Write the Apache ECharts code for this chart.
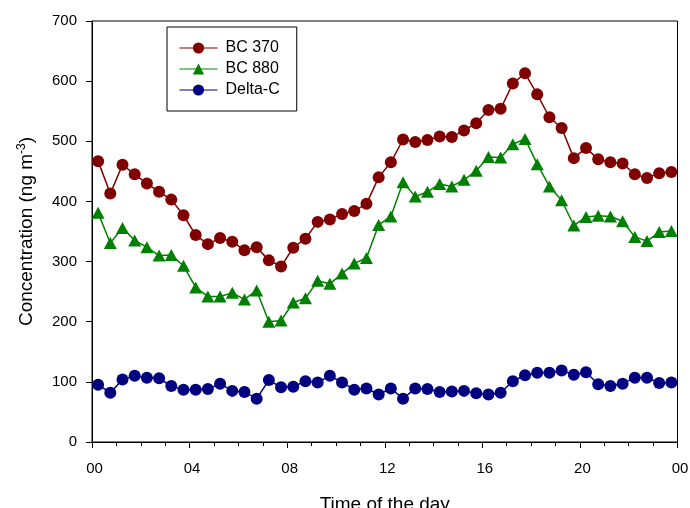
<!DOCTYPE html>
<html>
<head>
<meta charset="utf-8">
<script src="https://cdn.jsdelivr.net/npm/echarts@6/dist/echarts.min.js"></script>
<style>html,body{margin:0;padding:0;background:#fff}#c{width:690px;height:508px}</style>
</head>
<body>
<div id="c"></div>
<script>
const hours = [0.25,0.75,1.25,1.75,2.25,2.75,3.25,3.75,4.25,4.75,5.25,5.75,6.25,6.75,7.25,7.75,
  8.25,8.75,9.25,9.75,10.25,10.75,11.25,11.75,12.25,12.75,13.25,13.75,14.25,14.75,15.25,15.75,
  16.25,16.75,17.25,17.75,18.25,18.75,19.25,19.75,20.25,20.75,21.25,21.75,22.25,22.75,23.25,23.75];
const bc370 = [467,413,461,445,430,416,403,377,344,329,339,333,319,324,302,292,
  323,338,366,370,379,384,396,440,465,503,499,502,508,507,518,530,
  552,554,596,613,578,540,522,472,489,470,465,463,445,439,447,449];
const bc880 = [381,331,356,335,324,310,311,293,257,242,242,248,237,252,200,202,
  232,239,268,263,280,297,306,361,375,432,408,416,429,425,436,451,
  474,473,495,504,462,425,402,360,374,376,375,367,341,334,349,351];
const deltaC = [95,82,104,110,107,106,93,87,87,88,97,85,83,72,103,91,
  92,101,99,110,99,87,89,79,89,72,89,88,83,84,85,81,
  79,82,101,111,115,115,119,112,116,96,93,97,107,107,98,99];
const xTickLabels = {0:'00',4:'04',8:'08',12:'12',16:'16',20:'20',24:'00'};

const pair = a => a.map((v,i)=>[hours[i], v]);
const font = 'Arial, "Liberation Sans", sans-serif';
const chart = echarts.init(document.getElementById('c'));
chart.setOption({
  animation: false,
  backgroundColor: '#fff',
  grid: {left: 92, right: 12.5, top: 21, bottom: 66, containLabel: false, outerBoundsMode: 'none',
         show: true, borderColor: '#000', borderWidth: 1, backgroundColor: 'transparent'},
  legend: {
    orient: 'vertical', left: 167, top: 27,
    borderColor: '#000', borderWidth: 1,
    padding: [13, 17, 13, 12],
    itemWidth: 38, itemHeight: 14, itemGap: 5,
    lineStyle: {width: 1},
    textStyle: {fontFamily: font, fontSize: 16, color: '#000', padding: [0,0,0,3]},
    data: ['BC 370','BC 880','Delta-C']
  },
  xAxis: {
    type: 'value', min: 0, max: 24, interval: 4,
    axisLine: {lineStyle: {color: '#000', width: 1}},
    axisTick: {length: 6, lineStyle: {color: '#000'}},
    minorTick: {show: true, splitNumber: 4, length: 4, lineStyle: {color: '#000'}},
    splitLine: {show: false},
    axisLabel: {fontFamily: font, fontSize: 15, color: '#000', margin: 19, padding: [0,0,0,5], formatter: v => xTickLabels[v]},
    name: 'Time of the day', nameLocation: 'middle', nameGap: 53,
    nameTextStyle: {fontFamily: font, fontSize: 19, color: '#000'}
  },
  yAxis: {
    type: 'value', min: 0, max: 700, interval: 100,
    axisLine: {show: true, lineStyle: {color: '#000', width: 1}},
    axisTick: {show: true, length: 6, lineStyle: {color: '#000'}},
    splitLine: {show: false},
    axisLabel: {fontFamily: font, fontSize: 15, color: '#000', margin: 15},
    name: '{a|Concentration (ng m}{b|-3}{a|)}', nameLocation: 'middle', nameGap: 55,
    nameTextStyle: {
      rich: {
        a: {fontFamily: font, fontSize: 19, color: '#000'},
        b: {fontFamily: font, fontSize: 12, color: '#000', verticalAlign: 'top', padding: [0,0,9,0]}
      }
    }
  },
  series: [
    {name: 'BC 370', type: 'line', data: pair(bc370), symbol: 'circle', symbolSize: 12,
     itemStyle: {color: '#800000'}, lineStyle: {color: '#800000', width: 1.5}},
    {name: 'BC 880', type: 'line', data: pair(bc880), symbol: 'triangle', symbolSize: [13, 12],
     itemStyle: {color: '#008000'}, lineStyle: {color: '#008000', width: 1.5}},
    {name: 'Delta-C', type: 'line', data: pair(deltaC), symbol: 'circle', symbolSize: 12,
     itemStyle: {color: '#000080'}, lineStyle: {color: '#000080', width: 1.5}}
  ]
});
</script>
</body>
</html>
